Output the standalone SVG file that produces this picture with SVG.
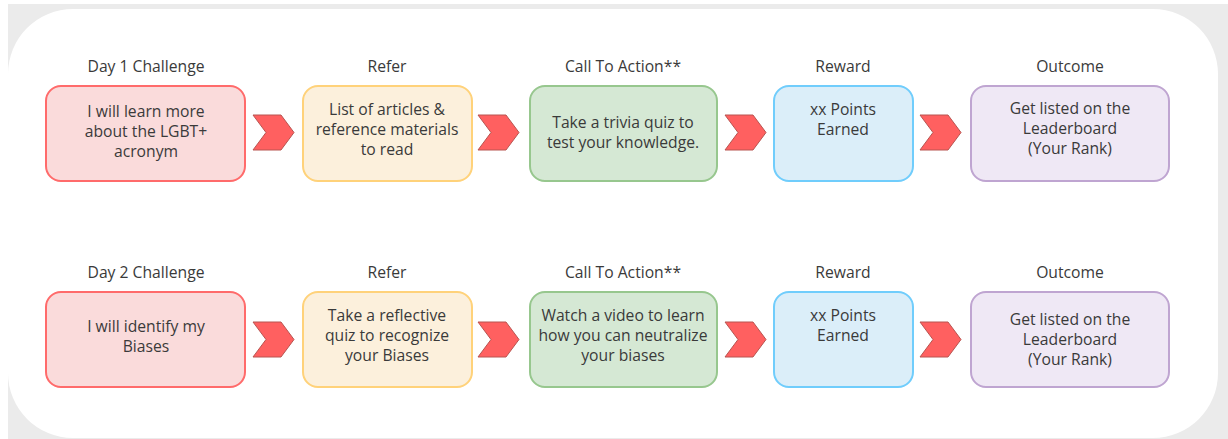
<svg xmlns="http://www.w3.org/2000/svg" width="1228" height="439" viewBox="0 0 1228 439">
<style>
.t{font-family:"Open Sans","Liberation Sans",sans-serif;font-size:15.7px;fill:#3a3a3a;text-anchor:middle}
.b{stroke-width:2}
.red{fill:#fadbdb;stroke:#ff6b6b}
.yel{fill:#fcf0dc;stroke:#ffd27a}
.grn{fill:#d5e8d4;stroke:#97c78e}
.blu{fill:#dbeef9;stroke:#70cdfc}
.pur{fill:#efe8f5;stroke:#bfa5d1}
.chev{fill:#ff6060;stroke:#b85450;stroke-width:1}
</style>
<defs>
<polygon id="chev" points="0,0 28,0 41,17.5 28,35 0,35 13,17.5"/>
</defs>
<rect x="0" y="0" width="1228" height="439" fill="#ffffff"/>
<rect x="8" y="4" width="1220" height="435" fill="#ebebeb"/>
<rect x="8" y="9" width="1210" height="429" rx="65" ry="65" fill="#ffffff"/>

<g id="row1">
<g id="d1-challenge">
<text class="t" x="146" y="72">Day 1 Challenge</text>
<rect class="b red" x="46" y="86" width="199" height="95" rx="15"/>
<text class="t" x="146" y="117">I will learn more</text>
<text class="t" x="146" y="137">about the LGBT+</text>
<text class="t" x="146" y="157">acronym</text>
</g>
<g id="d1-refer">
<text class="t" x="387" y="72">Refer</text>
<rect class="b yel" x="303" y="86" width="169" height="95" rx="15"/>
<text class="t" x="387" y="115">List of articles &amp;</text>
<text class="t" x="387" y="135">reference materials</text>
<text class="t" x="387" y="155">to read</text>
</g>
<g id="d1-cta">
<text class="t" x="623" y="72">Call To Action**</text>
<rect class="b grn" x="530" y="86" width="187" height="95" rx="15"/>
<text class="t" x="623" y="128">Take a trivia quiz to</text>
<text class="t" x="623" y="148">test your knowledge.</text>
</g>
<g id="d1-reward">
<text class="t" x="843" y="72">Reward</text>
<rect class="b blu" x="774" y="86" width="139" height="95" rx="15"/>
<text class="t" x="843" y="115">xx Points</text>
<text class="t" x="843" y="135">Earned</text>
</g>
<g id="d1-outcome">
<text class="t" x="1070" y="72">Outcome</text>
<rect class="b pur" x="971" y="86" width="198" height="95" rx="15"/>
<text class="t" x="1070" y="114">Get listed on the</text>
<text class="t" x="1070" y="134">Leaderboard</text>
<text class="t" x="1070" y="154">(Your Rank)</text>
</g>
</g>

<g id="row2">
<g id="d2-challenge">
<text class="t" x="146" y="278">Day 2 Challenge</text>
<rect class="b red" x="46" y="292" width="199" height="95" rx="15"/>
<text class="t" x="146" y="332">I will identify my</text>
<text class="t" x="146" y="352">Biases</text>
</g>
<g id="d2-refer">
<text class="t" x="387" y="278">Refer</text>
<rect class="b yel" x="303" y="292" width="169" height="95" rx="15"/>
<text class="t" x="387" y="321">Take a reflective</text>
<text class="t" x="387" y="341">quiz to recognize</text>
<text class="t" x="387" y="361">your Biases</text>
</g>
<g id="d2-cta">
<text class="t" x="623" y="278">Call To Action**</text>
<rect class="b grn" x="530" y="292" width="187" height="95" rx="15"/>
<text class="t" x="623" y="321">Watch a video to learn</text>
<text class="t" x="623" y="341">how you can neutralize</text>
<text class="t" x="623" y="361">your biases</text>
</g>
<g id="d2-reward">
<text class="t" x="843" y="278">Reward</text>
<rect class="b blu" x="774" y="292" width="139" height="95" rx="15"/>
<text class="t" x="843" y="321">xx Points</text>
<text class="t" x="843" y="341">Earned</text>
</g>
<g id="d2-outcome">
<text class="t" x="1070" y="278">Outcome</text>
<rect class="b pur" x="971" y="292" width="198" height="95" rx="15"/>
<text class="t" x="1070" y="325">Get listed on the</text>
<text class="t" x="1070" y="345">Leaderboard</text>
<text class="t" x="1070" y="365">(Your Rank)</text>
</g>
</g>

<g id="connectors">
<use href="#chev" class="chev" x="253" y="115"/>
<use href="#chev" class="chev" x="478" y="115"/>
<use href="#chev" class="chev" x="725" y="115"/>
<use href="#chev" class="chev" x="920" y="115"/>
<use href="#chev" class="chev" x="253" y="322"/>
<use href="#chev" class="chev" x="478" y="322"/>
<use href="#chev" class="chev" x="725" y="322"/>
<use href="#chev" class="chev" x="920" y="322"/>
</g>
</svg>
